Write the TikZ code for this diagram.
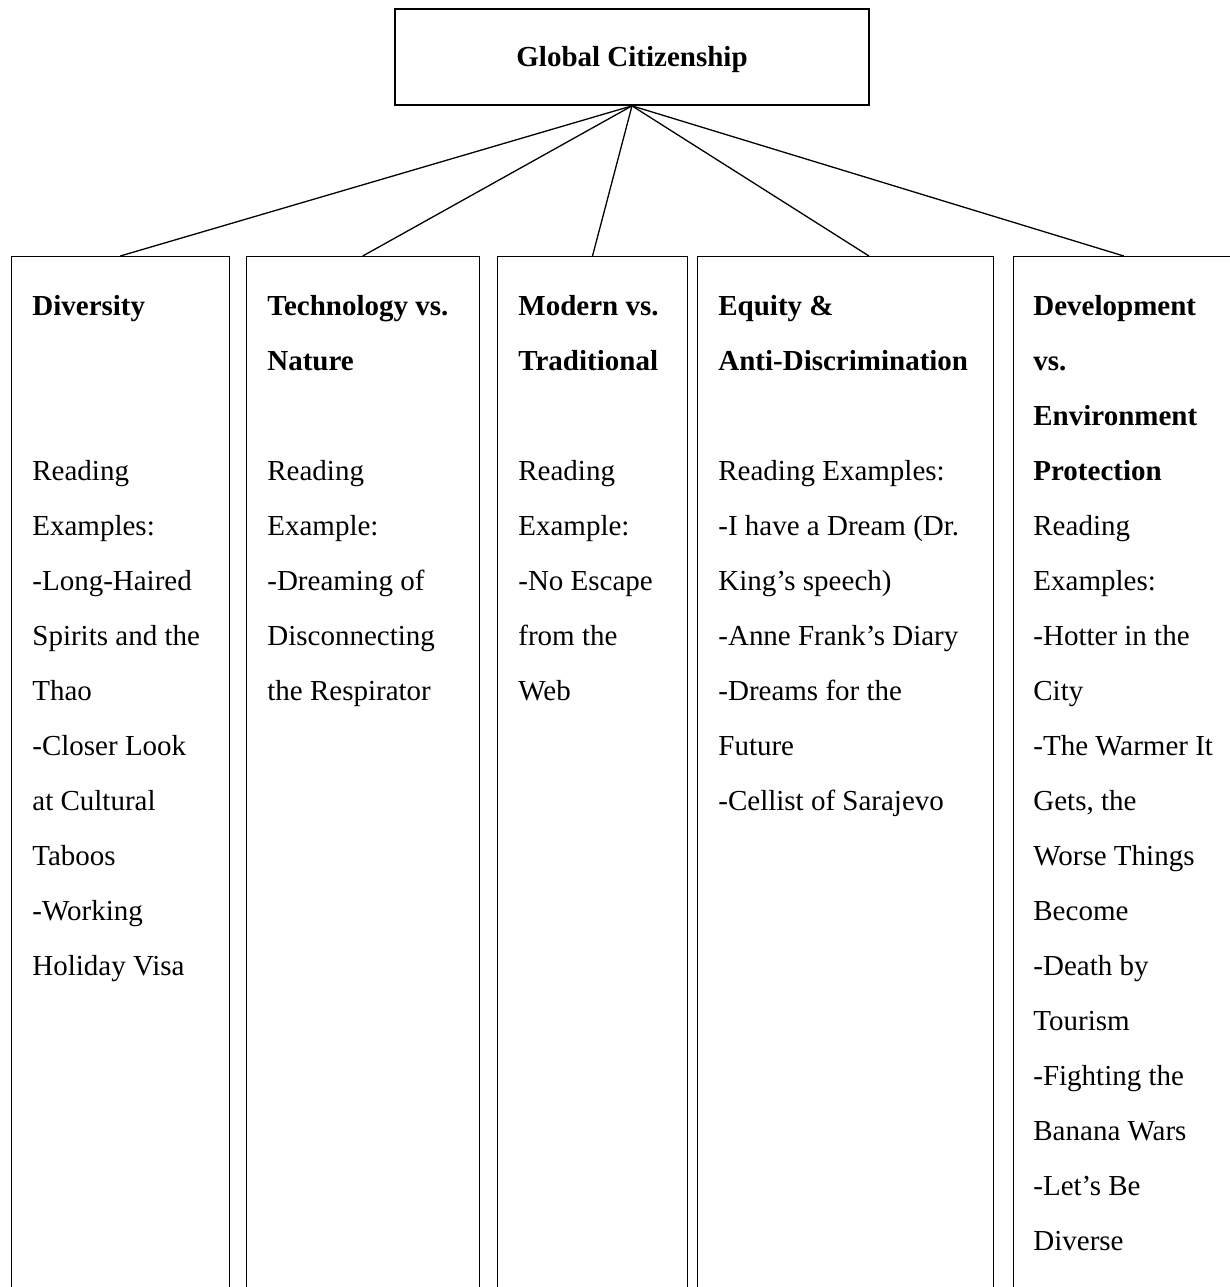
\documentclass[tikz,border=0pt]{standalone}
\usepackage{fontspec}
\setmainfont{Liberation Serif}
\usetikzlibrary{calc}
\begin{document}
\begin{tikzpicture}[x=0.5pt,y=-0.5pt,
  topbox/.style={draw, line width=0.85pt, minimum width=237pt, minimum height=48pt, inner sep=0pt,
    font=\fontsize{14.5pt}{17pt}\selectfont\bfseries, text height=12pt, text depth=2.3pt},
  colbox/.style={draw, line width=0.5pt, anchor=north west, inner sep=0pt, minimum height=530pt},
  coltext/.style={anchor=base west, inner sep=0pt, font=\fontsize{14.5pt}{27.5pt}\selectfont},
  link/.style={line width=0.65pt}]
\useasboundingbox (0,0) rectangle (1230,1287);

\node[topbox] (root) at (632,57) {Global Citizenship};

\node[colbox, minimum width=108.75pt] (b1) at (11,256) {};
\node[colbox, minimum width=116.75pt] (b2) at (245.5,256) {};
\node[colbox, minimum width=95pt] (b3) at (497,256) {};
\node[colbox, minimum width=147.75pt] (b4) at (697,256) {};
\node[colbox, minimum width=113.75pt] (b5) at (1012.5,256) {};

\node[coltext] (t1) at (32,315) {\parbox[t]{200pt}{\raggedright
  \textbf{Diversity}\\ \mbox{}\\ \mbox{}\\ Reading\\ Examples:\\ -Long-Haired\\ Spirits and the\\ Thao\\
  -Closer Look\\ at Cultural\\ Taboos\\ -Working\\ Holiday Visa}};
\node[coltext] (t2) at (267,315) {\parbox[t]{200pt}{\raggedright
  \textbf{Technology vs.}\\ \textbf{Nature}\\ \mbox{}\\ Reading\\ Example:\\ -Dreaming of\\ Disconnecting\\ the Respirator}};
\node[coltext] (t3) at (518,315) {\parbox[t]{200pt}{\raggedright
  \textbf{Modern vs.}\\ \textbf{Traditional}\\ \mbox{}\\ Reading\\ Example:\\ -No Escape\\ from the\\ Web}};
\node[coltext] (t4) at (718,315) {\parbox[t]{200pt}{\raggedright
  \textbf{Equity \&}\\ \textbf{Anti-Discrimination}\\ \mbox{}\\ Reading Examples:\\ -I have a Dream (Dr.\\ King’s speech)\\
  -Anne Frank’s Diary\\ -Dreams for the\\ Future\\ -Cellist of Sarajevo}};
\node[coltext] (t5) at (1033,315) {\parbox[t]{200pt}{\raggedright
  \textbf{Development}\\ \textbf{vs.}\\ \textbf{Environment}\\ \textbf{Protection}\\ Reading\\ Examples:\\
  -Hotter in the\\ City\\ -The Warmer It\\ Gets, the\\ Worse Things\\ Become\\ -Death by\\ Tourism\\
  -Fighting the\\ Banana Wars\\ -Let’s Be\\ Diverse}};

\draw[link] (root.south) -- (b1.north);
\draw[link] (root.south) -- (b2.north);
\draw[link] (root.south) -- (b3.north);
\draw[link] (root.south) -- ($(b4.north west)!0.58!(b4.north east)$);
\draw[link] (root.south) -- ($(b5.north west)!0.487!(b5.north east)$);
\end{tikzpicture}
\end{document}
